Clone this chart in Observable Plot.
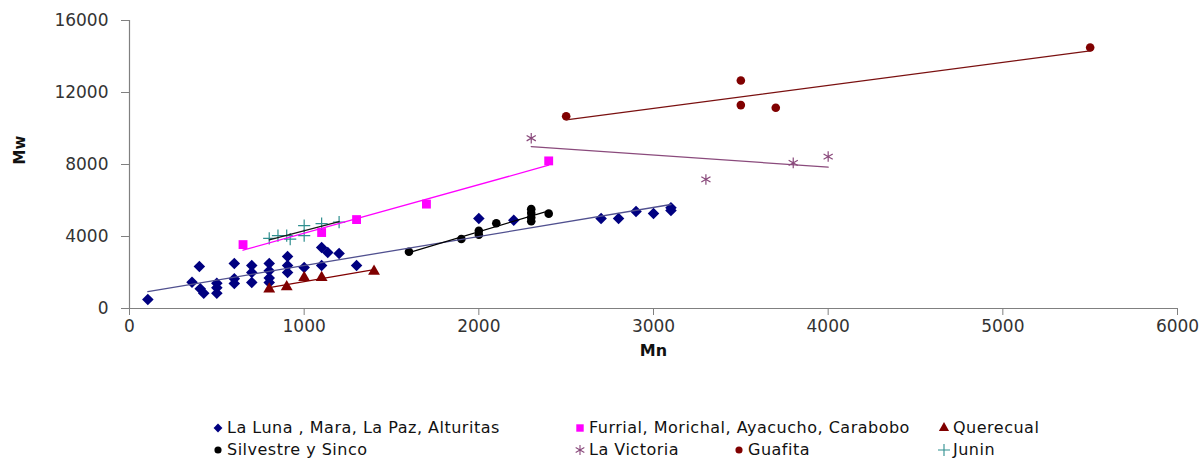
<!DOCTYPE html>
<html>
<head>
<meta charset="utf-8">
<script src="https://cdn.jsdelivr.net/npm/d3@7"></script>
<script src="https://cdn.jsdelivr.net/npm/@observablehq/plot@0.6"></script>
<style>
  body { margin: 0; background: #fff; }
  #wrap { position: relative; width: 1203px; height: 469px; overflow: hidden; background: #fff; }
  #chart { position: absolute; left: 0; top: 0; }
  .leg { position: absolute; font-family: "DejaVu Sans", sans-serif; font-size: 16px; letter-spacing: 0.5px; color: #111; white-space: nowrap; line-height: 20px; display: flex; align-items: center; }
  .leg svg { margin-right: 3px; }
</style>
</head>
<body>
<div id="wrap"><div id="chart"></div></div>
<script>
// ---- data ----
const seriesNames = [
  "La Luna , Mara, La Paz, Alturitas",
  "Furrial, Morichal, Ayacucho, Carabobo",
  "Querecual",
  "Silvestre y Sinco",
  "La Victoria",
  "Guafita",
  "Junin"
];
const lunaMn = [105,358,400,405,425,500,500,500,600,600,600,700,700,700,800,800,800,800,905,905,905,1000,1100,1135,1100,1200,1300,2000,2200,2700,2800,2900,3000,3100,3100];
const lunaMw = [500,1460,2330,1100,850,1400,1150,850,2500,1650,1390,2390,2000,1450,2500,2100,1700,1440,2890,2390,2000,2280,3390,3110,2390,3060,2390,5000,4900,5000,5000,5390,5280,5600,5440];
const furrialMn = [650,1100,1300,1700,2400];
const furrialMw = [3550,4220,4940,5800,8200];
const querecualMn = [800,900,1000,1100,1400];
const querecualMw = [1080,1200,1720,1720,2070];
const silvestreMn = [1600,1900,2000,2000,2100,2300,2300,2300,2300,2400];
const silvestreMw = [3150,3860,4100,4320,4740,4850,5060,5300,5520,5270];
const victoriaMn = [2300,3300,3800,4000];
const victoriaMw = [9460,7170,8090,8440];
const guafitaMn = [2500,3500,3500,3700,5500];
const guafitaMw = [10680,12670,11300,11150,14500];
const juninMn = [800,850,900,920,1000,1000,1100,1200];
const juninMw = [3900,4050,4050,3850,4600,4050,4720,4800];
const xTicks = [0,1000,2000,3000,4000,5000,6000];
const yTicks = [0,4000,8000,12000,16000];

const seriesX = [lunaMn, furrialMn, querecualMn, silvestreMn, victoriaMn, guafitaMn, juninMn];
const seriesY = [lunaMw, furrialMw, querecualMw, silvestreMw, victoriaMw, guafitaMw, juninMw];

// ---- styles ----
const styles = [
  {symbol: "diamond2", fill: "#000080", r: 5.2, line: "#50508f"},
  {symbol: "square",   fill: "#ff00ff", r: 5,   line: "#ff00ff"},
  {symbol: "triangle", fill: "#800000", r: 4.4, line: "#800000"},
  {symbol: "circle",   fill: "#000000", r: 4.3, line: "#000000"},
  {symbol: "asterisk", stroke: "#8a4a7c", r: 5, line: "#8a4a7c"},
  {symbol: "circle",   fill: "#800000", r: 4.3, line: "#7a1010"},
  {symbol: "plus",     stroke: "#2f8f8f", r: 4, line: "#1a1a1a"}
];

const tables = seriesNames.map((name, k) => seriesX[k].map((x, i) => ({series: name, Mn: x, Mw: seriesY[k][i]})));

const marks = [
  Plot.ruleX([0], {stroke: "#808080", strokeWidth: 1.2}),
  Plot.ruleY([0], {stroke: "#808080", strokeWidth: 1.2}),
  Plot.axisX({ticks: xTicks, tickFormat: d3.format("d"), tickSize: 7, tickPadding: 4, label: null, stroke: "#808080", fill: "#333"}),
  Plot.axisY({ticks: yTicks, tickFormat: d3.format("d"), tickSize: 8, tickPadding: 13, label: null, stroke: "#808080", fill: "#333"}),
  Plot.text(["Mn"], {frameAnchor: "bottom", dy: 47, fontWeight: "bold", fontSize: 16, fill: "#111"}),
  Plot.text(["Mw"], {frameAnchor: "left", dx: -109, rotate: -90, fontWeight: "bold", fontSize: 15, fill: "#111"})
];
tables.forEach((t, k) => {
  const s = styles[k];
  if (s.stroke) {
    marks.push(Plot.dot(t, {x: "Mn", y: "Mw", symbol: () => s.symbol, stroke: s.stroke, fill: "none", r: s.r, strokeWidth: 1.2}));
  } else {
    marks.push(Plot.dot(t, {x: "Mn", y: "Mw", symbol: () => s.symbol, fill: s.fill, stroke: "none", r: s.r}));
  }
});
tables.forEach((t, k) => {
  marks.push(Plot.linearRegressionY(t, {x: "Mn", y: "Mw", stroke: styles[k].line, strokeWidth: 1.3, ci: 0}));
});

const chart = Plot.plot({
  width: 1203,
  height: 380,
  marginLeft: 129,
  marginRight: 26,
  marginTop: 20,
  marginBottom: 72,
  style: {fontFamily: "DejaVu Sans, sans-serif", fontSize: "17px", background: "#fff"},
  x: {domain: [0, 6000]},
  y: {domain: [0, 16000]},
  symbol: {type: "identity"},
  marks
});
document.getElementById("chart").appendChild(chart);

// ---- legend ----
const legendPos = [
  {left: 212, top: 418},
  {left: 574, top: 418},
  {left: 938, top: 418},
  {left: 212, top: 440},
  {left: 574, top: 440},
  {left: 733, top: 440},
  {left: 938, top: 440}
];
const symMap = {diamond2: d3.symbolDiamond2, square: d3.symbolSquare, triangle: d3.symbolTriangle, circle: d3.symbolCircle, asterisk: d3.symbolAsterisk, plus: d3.symbolPlus};
const sizeMap = {diamond2: 50, square: 55, triangle: 45, circle: 40, asterisk: 70, plus: 60};
const wrap = document.getElementById("wrap");
seriesNames.forEach((name, k) => {
  const s = styles[k];
  const div = document.createElement("div");
  div.className = "leg";
  div.style.left = legendPos[k].left + "px";
  div.style.top = legendPos[k].top + "px";
  const path = d3.symbol(symMap[s.symbol], sizeMap[s.symbol])();
  const svg = `<svg width="12" height="12" viewBox="-6 -6 12 12"><path d="${path}" fill="${s.stroke ? "none" : s.fill}" stroke="${s.stroke || "none"}" stroke-width="1.1"/></svg>`;
  div.innerHTML = svg + "<span></span>";
  div.querySelector("span").textContent = name;
  wrap.appendChild(div);
});
</script>
</body>
</html>
